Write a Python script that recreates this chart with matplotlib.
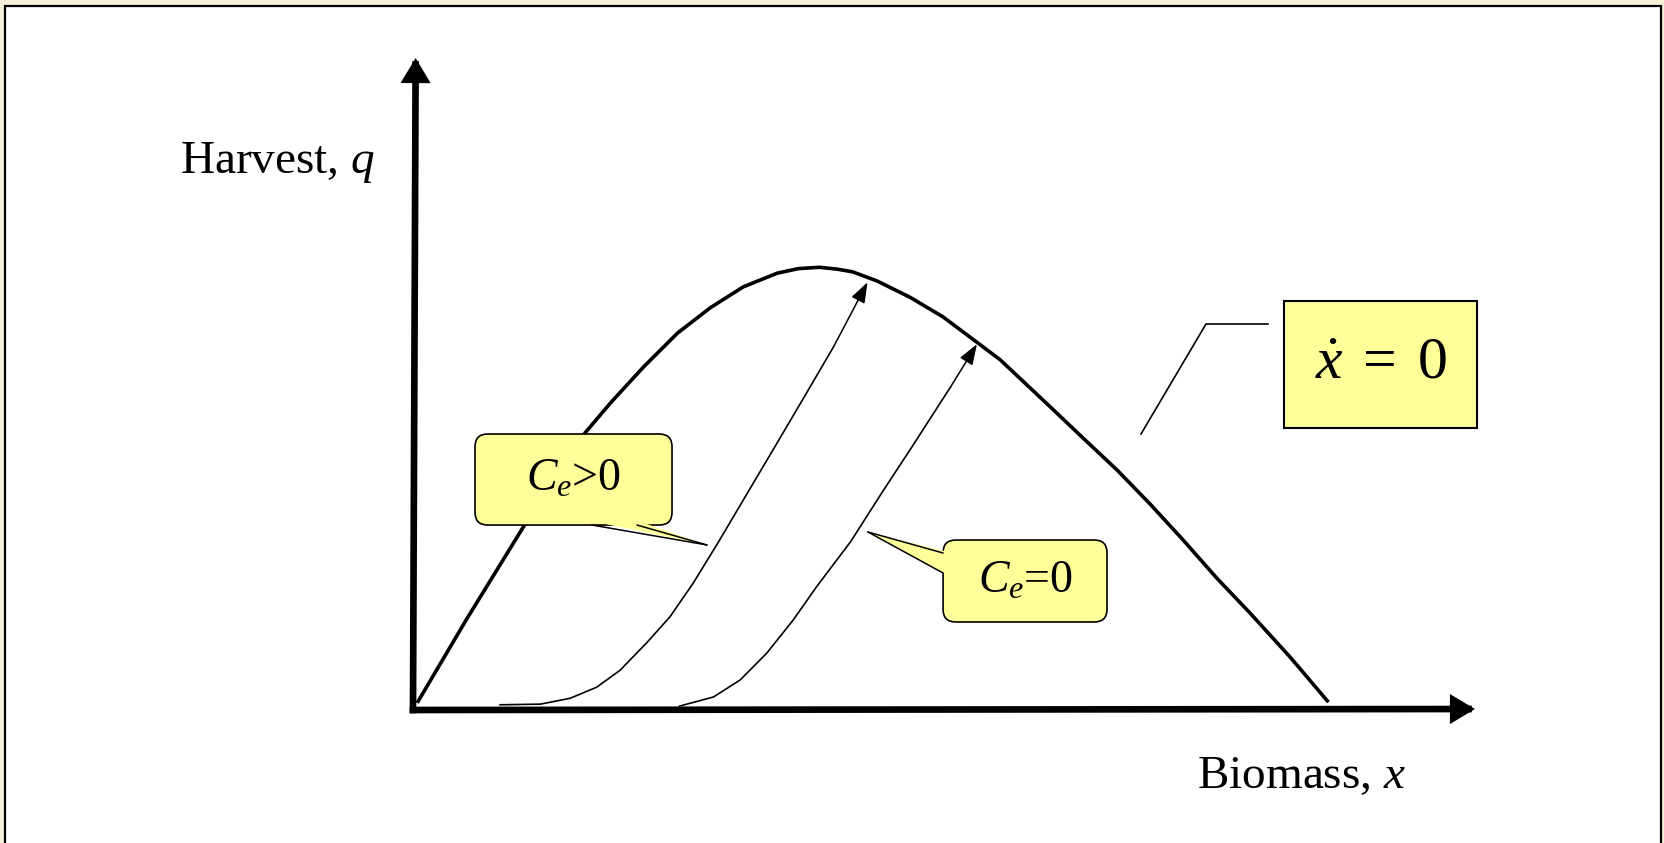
import matplotlib
matplotlib.use("Agg")
import matplotlib.pyplot as plt
from matplotlib.patches import FancyBboxPatch, Rectangle, Polygon

plt.rcParams['font.family'] = ['Liberation Serif', 'DejaVu Serif']
plt.rcParams['mathtext.fontset'] = 'custom'
plt.rcParams['mathtext.rm'] = 'Liberation Serif'
plt.rcParams['mathtext.it'] = 'Liberation Serif:italic'

# growth curve x_dot = 0 (biomass, harvest)
growth_x = [0.4, 5.0, 10.4, 13.3, 16.2, 18.6, 21.7, 24.9, 28.0, 31.1, 34.3, 36.3,
            38.3, 40.0, 41.4, 43.7, 46.8, 49.9, 53.1, 55.3, 60.0, 63.1, 66.3,
            69.4, 72.5, 75.7, 78.8, 82.6, 86.2]
growth_q = [1.1, 13.8, 28.1, 35.3, 42.5, 47.1, 52.6, 57.8, 61.7, 64.9, 67.0, 67.7,
            67.9, 67.6, 67.2, 65.8, 63.3, 60.3, 56.4, 53.7, 46.5, 41.7, 36.8,
            31.6, 26.1, 20.2, 14.9, 8.1, 1.2]

# path with positive effort cost
pos_x = [8.2, 12.0, 14.8, 17.3, 19.5, 22.0, 24.2, 26.4, 28.7, 33.9, 36.4, 39.6, 42.8]
pos_q = [0.8, 0.9, 1.8, 3.5, 6.1, 10.3, 14.3, 19.5, 25.6, 39.9, 46.8, 55.7, 65.6]

# path with zero effort cost
zero_x = [25.1, 28.3, 30.8, 33.3, 35.8, 38.0, 41.2, 44.3, 46.8, 50.6, 53.1]
zero_q = [0.6, 2.0, 4.6, 8.7, 13.8, 18.9, 25.8, 33.7, 39.9, 49.5, 56.1]

yellow = '#ffff99'

fig = plt.figure(figsize=(16.65, 8.43), dpi=100)
fig.patch.set_facecolor('#f9efd8')
fig.add_artist(Rectangle((5 / 1665, -0.02), 1656 / 1665, 837 / 843 + 0.02,
                         transform=fig.transFigure, fc='white', ec='black', lw=1.6,
                         zorder=-10))

ax = fig.add_axes([413 / 1665, 133 / 843, 1062 / 1665, 652 / 843])
ax.set_xlim(0, 100)
ax.set_ylim(0, 100)
ax.axis('off')

# axes arrows
axis_arrow = dict(arrowstyle='-|>,head_length=1.0,head_width=0.6', lw=4.8, color='k',
                  shrinkA=0, shrinkB=0, mutation_scale=11, joinstyle='miter',
                  capstyle='projecting')
ax.annotate('', xy=(100, 0.15), xytext=(0, 0), arrowprops=axis_arrow, annotation_clip=False)
ax.annotate('', xy=(0.25, 100), xytext=(0, 0), arrowprops=axis_arrow, annotation_clip=False)

ax.plot(growth_x, growth_q, color='k', lw=2.6, solid_capstyle='butt',
        solid_joinstyle='round', zorder=3)

thin_arrow = dict(arrowstyle='-|>,head_length=1.25,head_width=0.45', lw=1.1, color='k',
                  shrinkA=0, shrinkB=0, mutation_scale=10)
for xs, qs in [(pos_x, pos_q), (zero_x, zero_q)]:
    ax.plot(xs[:-1], qs[:-1], color='k', lw=1.2, solid_joinstyle='round', zorder=3)
    ax.annotate('', xy=(xs[-1], qs[-1]), xytext=(xs[-2], qs[-2]), arrowprops=thin_arrow,
                zorder=3)

aspect = 10.62 / 6.52


def callout(x0, x1, y0, y1, base1, base2, tip, inner, label):
    box = FancyBboxPatch((x0, y0), x1 - x0, y1 - y0,
                         boxstyle='round,pad=0,rounding_size=1.2', mutation_aspect=aspect,
                         fc=yellow, ec='black', lw=1.2, zorder=5, clip_on=False)
    ax.add_patch(box)
    ax.add_patch(Polygon([inner[0], inner[1], tip], closed=True, fc=yellow, ec='none',
                         zorder=6, clip_on=False))
    for b in (base1, base2):
        ax.plot([b[0], tip[0]], [b[1], tip[1]], color='k', lw=1.1, zorder=7,
                solid_capstyle='round')
    ax.text((x0 + x1) / 2, (y0 + y1) / 2, label, fontsize=33, ha='center', va='center',
            zorder=8)


callout(5.84, 24.39, 28.37, 42.33, (16.85, 28.37), (21.09, 28.37), (27.68, 25.31),
        [(16.7, 29.0), (21.2, 29.0)], r'$C_e$>0')
callout(49.91, 65.35, 13.50, 26.07, (49.91, 24.08), (49.91, 21.01), (42.84, 27.30),
        [(50.25, 24.3), (50.25, 20.8)], r'$C_e$=0')

# x_dot = 0 label with leader line
ax.add_patch(Rectangle((82.02, 43.25), 18.17, 19.48, fc=yellow, ec='black', lw=1.5,
                       zorder=5, clip_on=False))
ax.text(91.1, 53.0, r'$\dot{x}\;=\;0$', fontsize=43, ha='center', va='center', zorder=8)
ax.plot([80.51, 74.67, 68.55], [59.20, 59.20, 42.33], color='k', lw=1.2, clip_on=False)

ax.text(-3.6, 82.4, r'Harvest, $q$', fontsize=34, ha='right', va='baseline')
ax.text(73.8, -12.0, r'Biomass, $x$', fontsize=34, ha='left', va='baseline')

fig.savefig('out.png', dpi=100, facecolor=fig.get_facecolor())
